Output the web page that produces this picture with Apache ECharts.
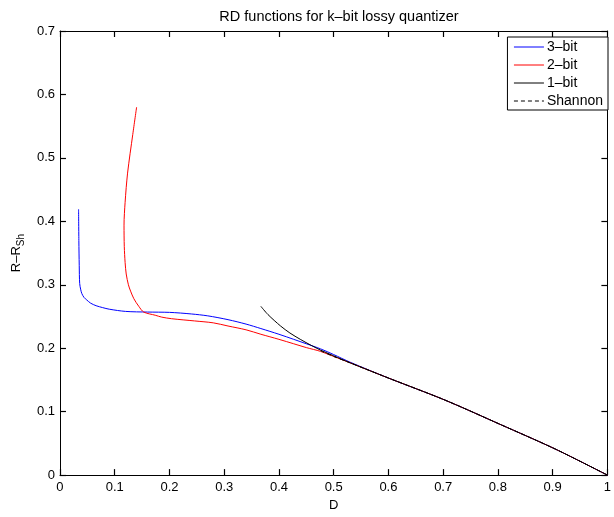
<!DOCTYPE html>
<html>
<head>
<meta charset="utf-8">
<script src="https://cdn.jsdelivr.net/npm/echarts@6/dist/echarts.min.js"></script>
<style>
html,body{margin:0;padding:0;background:#fff;}
#chart{width:614px;height:517px;}
</style>
</head>
<body>
<div id="chart"></div>
<script>
var seriesNames = ['3–bit', '2–bit', '1–bit', 'Shannon'];
var xTicks = [0, 0.1, 0.2, 0.3, 0.4, 0.5, 0.6, 0.7, 0.8, 0.9, 1];
var yTicks = [0, 0.1, 0.2, 0.3, 0.4, 0.5, 0.6, 0.7];

var bit3D = [0.034,0.0345,0.0352,0.036,0.038,0.040,0.044,0.049,0.056,0.066,0.078,0.09,0.12,0.16,0.2,0.24,0.27,0.307,0.34,0.367,0.40,0.427,0.45,0.476,0.50,0.53,0.6,0.704,0.804,0.905,1];
var bit3R = [0.419,0.37,0.33,0.302,0.292,0.286,0.280,0.276,0.271,0.267,0.264,0.2615,0.258,0.257,0.2565,0.254,0.251,0.245,0.238,0.231,0.222,0.214,0.207,0.199,0.190,0.178,0.153,0.118,0.080,0.041,0];

var bit2D = [0.140,0.133,0.1235,0.119,0.117,0.1175,0.119,0.121,0.125,0.129,0.135,0.144,0.153,0.174,0.186,0.204,0.246,0.28,0.307,0.34,0.367,0.40,0.427,0.45,0.476,0.50,0.53,0.6,0.704,0.804,0.905,1];
var bit2R = [0.580,0.537,0.476,0.43,0.394,0.36,0.335,0.317,0.300,0.290,0.278,0.266,0.257,0.252,0.249,0.2465,0.243,0.240,0.235,0.229,0.222,0.214,0.207,0.201,0.195,0.187,0.177,0.153,0.118,0.080,0.041,0];

var bit1D = [0.367,0.38,0.403,0.42,0.439,0.46,0.476,0.50,0.53,0.6,0.704,0.804,0.905,1];
var bit1R = [0.266,0.253,0.235,0.224,0.214,0.204,0.197,0.188,0.177,0.153,0.118,0.080,0.041,0];

var shD = [0.476,0.50,0.53,0.6,0.704,0.804,0.905,1];
var shR = [0.196,0.187,0.177,0.153,0.118,0.080,0.041,0];

function pairs(xs, ys){ return xs.map(function(x,i){ return [x, ys[i]]; }); }

var chart = echarts.init(document.getElementById('chart'), null, {renderer:'canvas'});
var font = 'Liberation Sans, Arial, Helvetica, sans-serif';
function axisCommon(){
  return {
    axisLine:{show:true, onZero:false, lineStyle:{color:'#000', width:1}},
    axisTick:{show:true, inside:true, length:6, lineStyle:{color:'#000', width:1.2}},
    splitLine:{show:false}
  };
}
function fmt(v){ return String(v); }

chart.setOption({
  animation:false,
  backgroundColor:'#fff',
  title:{
    text:'RD functions for k–bit lossy quantizer',
    left:334, top:4, textAlign:'center',
    textStyle:{fontFamily:font, fontSize:14.5, fontWeight:'normal', color:'#000'}
  },
  legend:{
    orient:'vertical', right:6, top:37,
    itemWidth:30, itemHeight:14, itemGap:4,
    padding:[3,5,2,6],
    borderColor:'#000', borderWidth:1, backgroundColor:'#fff', borderRadius:0,
    itemStyle:{opacity:0},
    lineStyle:{width:1},
    textStyle:{fontFamily:font, fontSize:14, color:'#000', padding:[0,0,0,-2]},
    data:seriesNames.map(function(n){return {name:n};})
  },
  grid:{left:57, right:4, top:31, bottom:31, containLabel:false},
  xAxis:[
    Object.assign(axisCommon(), {
      type:'value', min:0, max:1, interval:0.1, position:'bottom',
      name:'D', nameLocation:'middle', nameGap:20,
      nameTextStyle:{fontFamily:font, fontSize:13, color:'#000'},
      axisLabel:{fontFamily:font, fontSize:13, color:'#000', margin:6,
        formatter:function(v){ var r=Math.round(v*10)/10; return xTicks.indexOf(r)>=0?fmt(r):''; }}
    }),
    Object.assign(axisCommon(), {
      type:'value', min:0, max:1, interval:0.1, position:'top',
      axisLabel:{show:false}
    })
  ],
  yAxis:[
    Object.assign(axisCommon(), {
      type:'value', min:0, max:0.7, interval:0.1, position:'left',
      name:'{a|R–R}{b|Sh}', nameLocation:'middle', nameGap:28, nameRotate:90,
      nameTextStyle:{fontFamily:font, fontSize:13, color:'#000',
        rich:{
          a:{fontFamily:font, fontSize:13, color:'#000', lineHeight:20, verticalAlign:'middle'},
          b:{fontFamily:font, fontSize:10, color:'#000', lineHeight:20, verticalAlign:'bottom', padding:[8,0,0,0]}
        }},
      axisLabel:{fontFamily:font, fontSize:13, color:'#000', margin:5,
        formatter:function(v){ var r=Math.round(v*10)/10; return yTicks.indexOf(r)>=0?fmt(r):''; }}
    }),
    Object.assign(axisCommon(), {
      type:'value', min:0, max:0.7, interval:0.1, position:'right',
      axisLabel:{show:false}
    })
  ],
  series:[
    {name:seriesNames[0], type:'line', data:pairs(bit3D,bit3R), symbol:'none', smooth:0.3,
      lineStyle:{color:'#0000ff', width:1}, itemStyle:{color:'#0000ff'}, z:2},
    {name:seriesNames[1], type:'line', data:pairs(bit2D,bit2R), symbol:'none', smooth:0.3,
      lineStyle:{color:'#ff0000', width:1}, itemStyle:{color:'#ff0000'}, z:3},
    {name:seriesNames[2], type:'line', data:pairs(bit1D,bit1R), symbol:'none', smooth:0.3,
      lineStyle:{color:'#000000', width:1}, itemStyle:{color:'#000000'}, z:4},
    {name:seriesNames[3], type:'line', data:pairs(shD,shR), symbol:'none', smooth:0.3,
      lineStyle:{color:'#000000', width:1, type:[4,3]}, itemStyle:{color:'#000000'}, z:5}
  ]
});
</script>
</body>
</html>
